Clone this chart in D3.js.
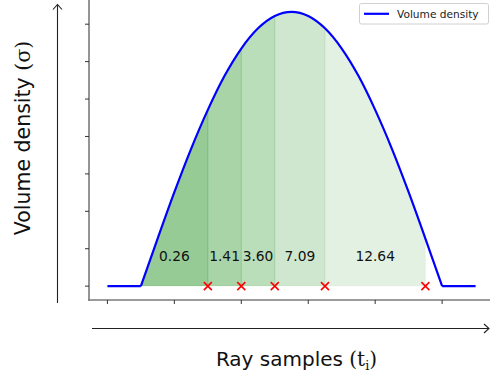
<!DOCTYPE html>
<html lang="en">
<head>
    <meta charset="UTF-8">
    <title>Volume density along a ray</title>
    <script src="https://d3js.org/d3.v7.min.js"></script>
    <style>
        body { margin: 0; background: #fff; }
        svg { display: block; }
    </style>
</head>
<body>
    <svg></svg>
    <script>
        // Density curve (t, sigma)
        const densityT = [0, 0.5, 0.75, 1.0, 1.25, 1.5, 1.75, 2.0, 2.25, 2.5, 2.75,
                          3.0, 3.25, 3.5, 3.75, 4.0, 4.25, 4.5, 4.75, 5.0, 5.5];
        const densitySigma = [0, 0, 1.27, 2.51, 3.67, 4.71, 5.62, 6.35, 6.89, 7.22, 7.33,
                              7.22, 6.89, 6.35, 5.62, 4.71, 3.67, 2.51, 1.27, 0, 0];

        // Sample points along the ray and the shaded intervals
        const sampleT = [1.5, 2.0, 2.5, 3.25, 4.75];
        const binEdges = [0.5, 1.5, 2.0, 2.5, 3.25, 4.75];
        const binLabels = ["0.26", "1.41", "3.60", "7.09", "12.64"];

        // Axis ticks (no labels on them)
        const xTicks = [0, 1, 2, 3, 4, 5];
        const yTicks = [0, 1, 2, 3, 4, 5, 6, 7];

        const binOpacity = [0.41, 0.34, 0.27, 0.19, 0.11];

        const W = 490, H = 379;
        const svg = d3.select("svg").attr("width", W).attr("height", H);

        const x = d3.scaleLinear().domain([-0.275, 5.775]).range([89, 494]);
        const y = d3.scaleLinear().domain([-0.37, 7.7]).range([300, -2]);

        const pts = densityT.map((t, i) => ({t: t, s: densitySigma[i]}));
        const hump = pts.filter(d => d.t >= 0.5 && d.t <= 5.0);
        const leftFlat = pts.filter(d => d.t <= 0.5);
        const rightFlat = pts.filter(d => d.t >= 5.0);

        // clip region = area under the curve
        const area = d3.area()
            .x(d => x(d.t))
            .y0(y(0))
            .y1(d => y(d.s))
            .curve(d3.curveMonotoneX);

        svg.append("defs").append("clipPath")
            .attr("id", "under")
            .append("path")
            .attr("d", area(hump));

        // shaded strips
        const strips = svg.append("g").attr("clip-path", "url(#under)");
        binLabels.forEach((lab, i) => {
            strips.append("rect")
                .attr("x", x(binEdges[i]))
                .attr("y", 0)
                .attr("width", x(binEdges[i + 1]) - x(binEdges[i]))
                .attr("height", y(0))
                .attr("fill", "green")
                .attr("fill-opacity", binOpacity[i])
                .attr("stroke", "green")
                .attr("stroke-opacity", binOpacity[i] * 0.35)
                .attr("stroke-width", 1);
        });

        // strip labels
        svg.append("g")
            .selectAll("text")
            .data(binLabels)
            .enter()
            .append("text")
            .attr("x", (d, i) => x((binEdges[i] + binEdges[i + 1]) / 2))
            .attr("y", 260.8)
            .attr("text-anchor", "middle")
            .attr("font-family", "DejaVu Sans")
            .attr("font-size", 13.8)
            .attr("fill", "#111")
            .text(d => d);

        // density curve
        const line = d3.line().x(d => x(d.t)).y(d => y(d.s));
        const curveG = svg.append("g")
            .attr("fill", "none")
            .attr("stroke", "blue")
            .attr("stroke-width", 2.2)
            .attr("stroke-linejoin", "round");
        curveG.append("path").attr("d", line(leftFlat));
        curveG.append("path").attr("d", line.curve(d3.curveMonotoneX)(hump));
        curveG.append("path").attr("d", d3.line().x(d => x(d.t)).y(d => y(d.s))(rightFlat));

        // sample markers
        const m = 4;
        const marks = svg.append("g")
            .attr("stroke", "red")
            .attr("stroke-width", 1.6);
        sampleT.forEach(t => {
            const cx = x(t), cy = y(0);
            marks.append("path")
                .attr("d", `M${cx - m},${cy - m}L${cx + m},${cy + m}M${cx - m},${cy + m}L${cx + m},${cy - m}`);
        });

        // spines
        svg.append("line")
            .attr("x1", 89).attr("x2", 89).attr("y1", -2).attr("y2", 300.8)
            .attr("stroke", "#7a7a7a").attr("stroke-width", 1.6);
        svg.append("line")
            .attr("x1", 88.2).attr("x2", 494).attr("y1", 300).attr("y2", 300)
            .attr("stroke", "#7a7a7a").attr("stroke-width", 1.6);

        // ticks
        svg.append("g").selectAll("line")
            .data(yTicks).enter().append("line")
            .attr("x1", 85).attr("x2", 89)
            .attr("y1", d => y(d)).attr("y2", d => y(d))
            .attr("stroke", "#333").attr("stroke-width", 1);
        svg.append("g").selectAll("line")
            .data(xTicks).enter().append("line")
            .attr("x1", d => x(d)).attr("x2", d => x(d))
            .attr("y1", 300).attr("y2", 304)
            .attr("stroke", "#333").attr("stroke-width", 1);

        // arrows
        const arrows = svg.append("g")
            .attr("stroke", "#222").attr("stroke-width", 1.1).attr("fill", "none");
        arrows.append("path").attr("d", "M57.5,303V4.5M53,9.5L57.5,4.5L62,9.5");
        arrows.append("path").attr("d", "M92,328.5H489M484,324L489,328.5L484,333");

        // axis titles
        svg.append("text")
            .attr("transform", "translate(29.5,138) rotate(-90)")
            .attr("text-anchor", "middle")
            .attr("font-family", "DejaVu Sans")
            .attr("font-size", 20.5)
            .attr("fill", "#111")
            .call(t => {
                t.append("tspan").text("Volume density ");
                t.append("tspan").attr("font-family", "DejaVu Serif").text("(σ)");
            });

        svg.append("text")
            .attr("x", 296.5)
            .attr("y", 366)
            .attr("text-anchor", "middle")
            .attr("font-family", "DejaVu Sans")
            .attr("font-size", 20)
            .attr("fill", "#111")
            .call(t => {
                t.append("tspan").text("Ray samples ");
                t.append("tspan").attr("font-family", "DejaVu Serif").text("(t");
                t.append("tspan").attr("font-family", "DejaVu Serif").attr("font-size", 13)
                    .attr("dy", 4).text("i");
                t.append("tspan").attr("font-family", "DejaVu Serif").attr("dy", -4).text(")");
            });

        // legend
        const lg = svg.append("g");
        lg.append("rect")
            .attr("x", 359.5).attr("y", 3.5).attr("width", 129).attr("height", 20.5)
            .attr("rx", 2).attr("fill", "#fff").attr("fill-opacity", 0.8)
            .attr("stroke", "#d0d0d0").attr("stroke-width", 1);
        lg.append("line")
            .attr("x1", 364).attr("x2", 389).attr("y1", 13.8).attr("y2", 13.8)
            .attr("stroke", "blue").attr("stroke-width", 2.2);
        lg.append("text")
            .attr("x", 397).attr("y", 17.8)
            .attr("font-family", "DejaVu Sans").attr("font-size", 10.6)
            .attr("fill", "#222")
            .text("Volume density");
    </script>
</body>
</html>
